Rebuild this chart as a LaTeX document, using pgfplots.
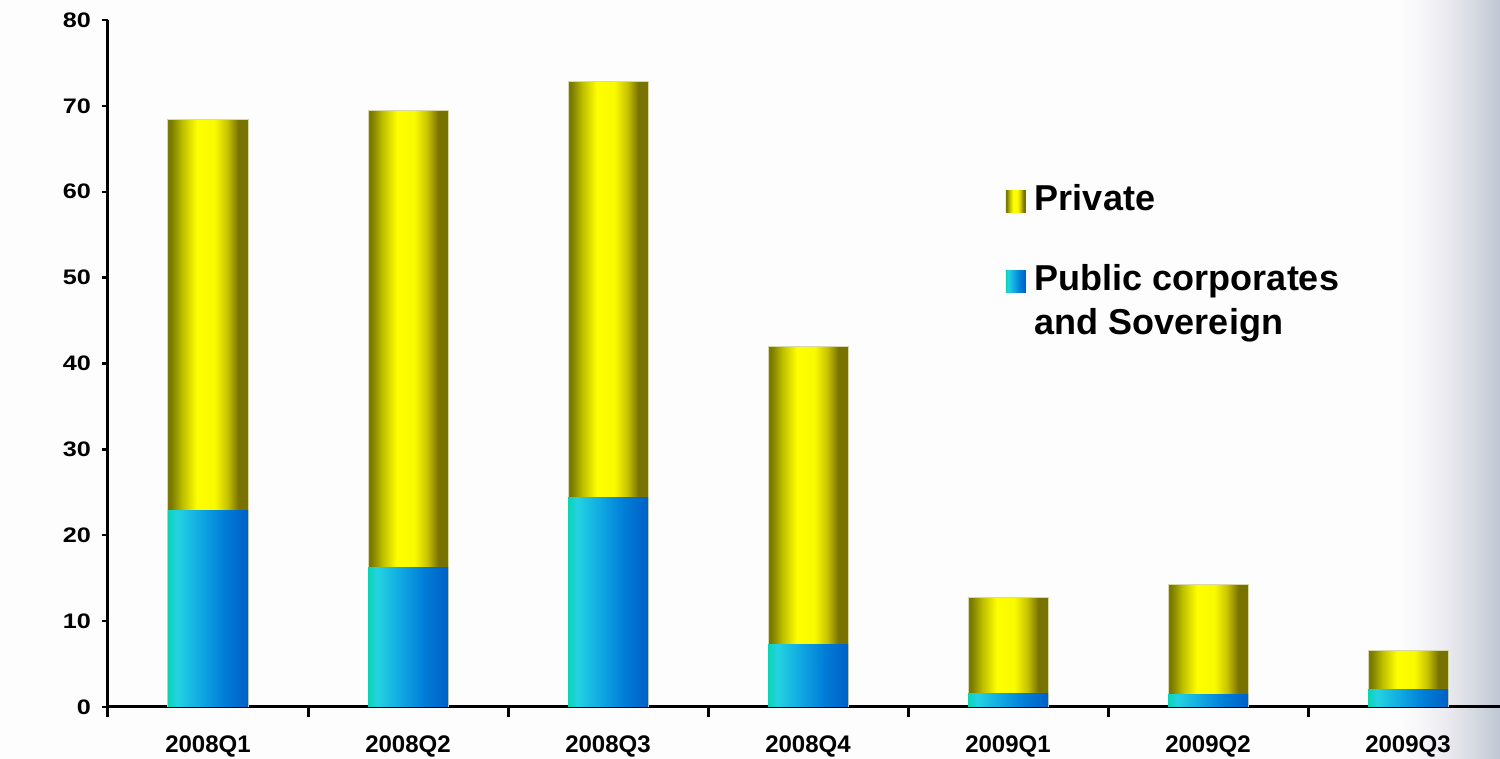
\documentclass[border=0pt]{standalone}
\usepackage{fontspec}
\setmainfont{Liberation Sans}
\newfontfamily\ytfont{Liberation Sans}[FakeStretch=1.2]
\usepackage{pgfplots}
\usepackage{pgfplotstable}
\pgfplotsset{compat=1.18}

\definecolor{oA}{RGB}{122,122,0}
\definecolor{oB}{RGB}{190,190,0}
\definecolor{oC}{RGB}{255,255,0}
\definecolor{oD}{RGB}{250,250,0}
\definecolor{oE}{RGB}{200,195,0}
\definecolor{oF}{RGB}{120,114,0}
\definecolor{pA}{RGB}{10,212,182}
\definecolor{pB}{RGB}{35,210,226}
\definecolor{pC}{RGB}{18,172,226}
\definecolor{pD}{RGB}{0,125,215}
\definecolor{pE}{RGB}{0,95,198}
\definecolor{bA}{RGB}{253,253,253}
\definecolor{bB}{RGB}{245,245,248}
\definecolor{bC}{RGB}{232,232,238}
\definecolor{bD}{RGB}{213,218,224}
\definecolor{bE}{RGB}{192,198,212}
\definecolor{edge}{RGB}{215,215,170}

\pgfdeclarehorizontalshading{privshade}{100bp}{color(0bp)=(oA); color(25bp)=(oA); color(27bp)=(oA); color(34bp)=(oB); color(43bp)=(oC); color(54bp)=(oD); color(62bp)=(oE); color(69bp)=(oF); color(75bp)=(oF); color(100bp)=(oF)}
\pgfdeclarehorizontalshading{pubshade}{100bp}{color(0bp)=(pA); color(25bp)=(pA); color(31bp)=(pB); color(44bp)=(pC); color(60bp)=(pD); color(75bp)=(pE); color(100bp)=(pE)}
\pgfdeclarehorizontalshading{bgshade}{100bp}{color(0bp)=(bA); color(25bp)=(bA); color(37.5bp)=(bB); color(50bp)=(bC); color(62.5bp)=(bD); color(75bp)=(bE); color(100bp)=(bE)}

% x: quarter index; pub: public corporates and sovereign; priv: private
\pgfplotstableread{
x pub priv
0 22.9 45.5
1 16.3 53.2
2 24.4 48.4
3 7.3 34.7
4 1.6 11.2
5 1.4 12.9
6 2.0 4.6
}\datatable

\begin{document}
\begin{tikzpicture}
\useasboundingbox (0,0) rectangle (750pt,379.5pt);
\fill[bA] (0,0) rectangle (750pt,379.5pt);
\path[shading=bgshade] (700pt,0) rectangle (750pt,379.5pt);
\begin{axis}[
  at={(54pt,26pt)}, anchor=south west,
  scale only axis, width=700pt, height=343.5pt,
  xmin=-0.5, xmax=6.5, ymin=0, ymax=80,
  axis x line*=bottom, axis y line*=left,
  axis line style={line width=1.5pt, -},
  x axis line style={-}, y axis line style={-},
  ytick={0,10,...,80},
  xtick={0,...,6},
  xticklabels={2008Q1,2008Q2,2008Q3,2008Q4,2009Q1,2009Q2,2009Q3},
  minor xtick={-0.5,0.5,...,6.5},
  tick align=outside,
  major tick length=3pt,
  minor tick length=5pt,
  major x tick style={draw=none},
  minor x tick style={line width=1.5pt, black},
  ytick style={line width=1.2pt, black},
  yticklabel style={font=\ytfont\bfseries\fontsize{10.5}{12}\selectfont, xshift=-2pt},
  xticklabel style={font=\bfseries\fontsize{12}{14}\selectfont, yshift=-8pt},
  /pgf/number format/assume math mode=true,
  legend style={at={(0.6414,0.7613)}, anchor=north west, draw=none, fill=none,
    inner sep=0pt, outer sep=0pt, row sep=0pt, column sep=4.5pt,
    font=\bfseries\fontsize{18}{22}\selectfont,
    nodes={inner sep=0pt},
    cells={anchor=base west, inner sep=0pt}},
]
\pgfplotsinvokeforeach{0,...,6}{
  \addplot[forget plot, ybar, bar width=40pt, bar shift=0pt,
    shading=privshade, draw=edge, line width=0.5pt,
    restrict x to domain=#1:#1]
    table[x=x, y expr=\thisrow{pub}+\thisrow{priv}] {\datatable};
  \addplot[forget plot, ybar, bar width=40pt, bar shift=0pt,
    shading=pubshade, draw=none,
    restrict x to domain=#1:#1]
    table[x=x, y=pub] {\datatable};
}
\addlegendimage{legend image code/.code={\path[draw=none, shading=privshade] (0pt,-1pt) rectangle (10pt,10pt);}}
\addlegendentry{Private\rule{0pt}{13pt}}
\addlegendimage{legend image code/.code={\path[draw=none, shading=pubshade] (0pt,-1pt) rectangle (10pt,10pt);}}
\addlegendentry{Public corporates\rule{0pt}{38.8pt}}
\addlegendimage{empty legend}
\addlegendentry{and Sovereign\rule{0pt}{20.5pt}}
\end{axis}
\end{tikzpicture}
\end{document}
